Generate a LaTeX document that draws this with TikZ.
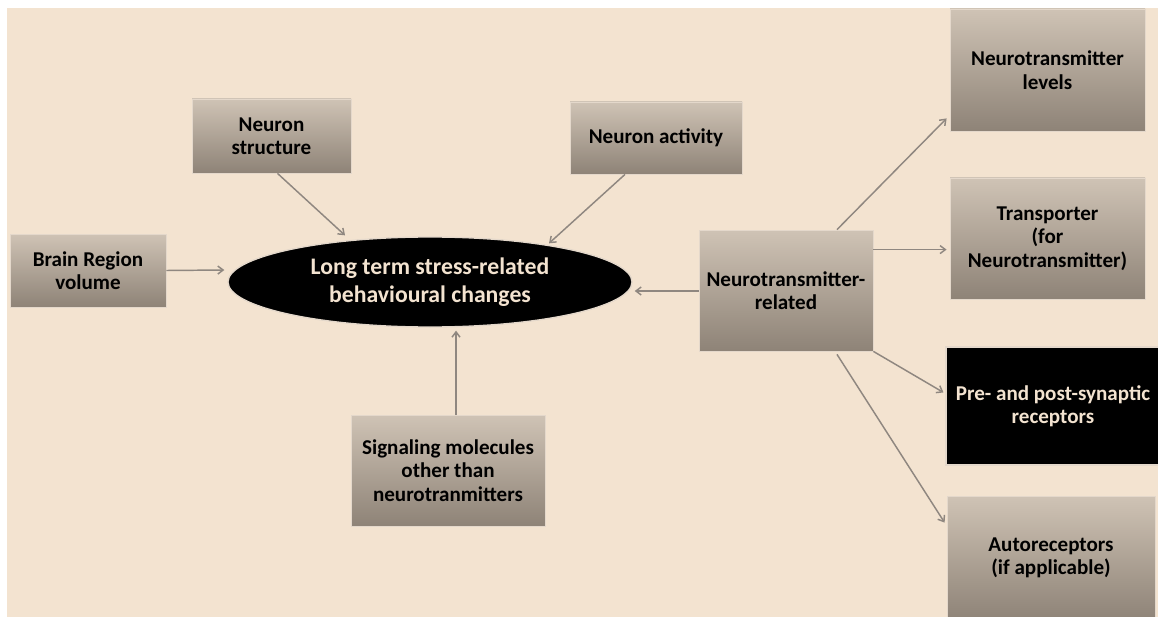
\documentclass[tikz,border=0pt]{standalone}
\usepackage{fontspec}
\setmainfont{Carlito}
\usetikzlibrary{arrows.meta,calc,shapes.geometric,shadows}
\definecolor{bg}{HTML}{F3E3D0}
\definecolor{btop}{HTML}{CFC3B5}
\definecolor{bbot}{HTML}{8E8377}
\definecolor{arrc}{HTML}{8F8780}
\definecolor{rim}{HTML}{E4D8CB}
\begin{document}
\begin{tikzpicture}[x=0.75pt,y=-0.75pt,
  box/.style={rectangle, top color=btop, bottom color=bbot, draw=rim, line width=0.6pt,
    inner sep=0pt, align=center, font=\bfseries\fontsize{15.8}{17.6}\selectfont,
    drop shadow={shadow xshift=1pt, shadow yshift=-1pt, opacity=0.25}},
  darkbox/.style={rectangle, fill=black, draw=rim, line width=0.8pt, text=bg,
    inner sep=0pt, align=center, font=\bfseries\fontsize{15.8}{17.6}\selectfont},
  hub/.style={ellipse, fill=black, draw=rim, line width=1pt, text=bg, inner sep=0pt,
    align=center, font=\bfseries\fontsize{17.8}{21}\selectfont},
  arr/.style={draw=arrc, line width=1.1pt, -{Straight Barb[length=4pt,width=6pt]}}]
\fill[white] (0,0) rectangle (1158,617);
\fill[bg] (7,8) rectangle (1158,617);
\useasboundingbox (0,0) rectangle (1158,617);

\node[hub, minimum width=0.75*404pt, minimum height=0.75*90pt] (hub) at (430,282)
  {Long term stress-related\\behavioural changes};
\node[box, minimum width=0.75*156pt, minimum height=0.75*73pt] (brain) at (88,270.5)
  {Brain Region\\volume};
\node[box, minimum width=0.75*159pt, minimum height=0.75*74pt] (struct) at (271.5,136)
  {Neuron\\structure};
\node[box, minimum width=0.75*172pt, minimum height=0.75*72pt] (act) at (656,138)
  {Neuron activity};
\node[box, minimum width=0.75*194pt, minimum height=0.75*111pt] (sig) at (448,470.5)
  {Signaling molecules\\other than\\neurotranmitters};
\node[box, minimum width=0.75*174pt, minimum height=0.75*121pt] (ntr) at (786,290.5)
  {Neurotransmitter-\\related};
\node[box, minimum width=0.75*195pt, minimum height=0.75*122pt] (lev) at (1047.5,70)
  {Neurotransmitter\\levels};
\node[box, minimum width=0.75*195pt, minimum height=0.75*121pt] (trans) at (1047.5,238.5)
  {Transporter\\(for\\Neurotransmitter)};
\node[darkbox, minimum width=0.75*214pt, minimum height=0.75*118pt] (pre) at (1053,406)
  {Pre- and post-synaptic\\receptors};
\node[box, minimum width=0.75*208pt, minimum height=0.75*124pt] (auto) at (1051,558)
  {Autoreceptors\\(if applicable)};

\draw[arr] (brain.east) -- ($(hub.west)+(-3,-12)$);
\draw[arr] ($(struct.south)+(6,0)$) -- ($(hub.north)+(-85,-1)$);
\draw[arr] ($(act.south)+(-31,0)$) -- ($(hub.north)+(119,7)$);
\draw[arr] ($(sig.north)+(8,0)$) -- ($(hub.south)+(26,3)$);
\draw[arr] ($(ntr.west)+(0,0.5)$) -- ($(hub.east)+(2,9)$);
\draw[arr] ($(ntr.north)+(51,0)$) -- ($(lev.south west)+(-3,-13)$);
\draw[arr] ($(ntr.north east)+(0,20)$) -- ($(trans.north west)+(-3,72)$);
\draw[arr] (ntr.south east) -- ($(pre.north west)+(-2,46)$);
\draw[arr] ($(ntr.south)+(51,3)$) -- ($(auto.north west)+(-2,27)$);
\end{tikzpicture}
\end{document}
